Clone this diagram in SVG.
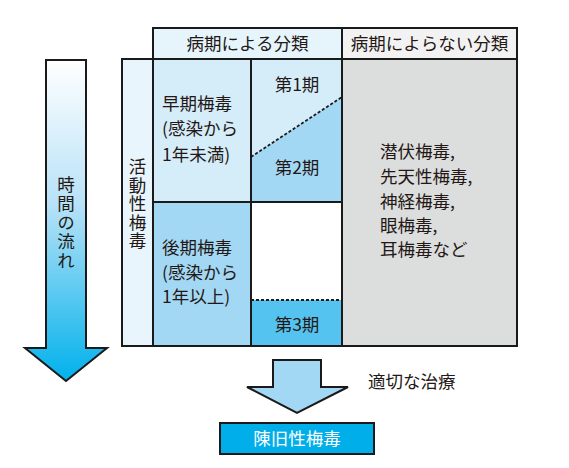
<svg xmlns="http://www.w3.org/2000/svg" width="569" height="468" viewBox="0 0 569 468">
<defs>
<linearGradient id="timeGrad" x1="0" y1="0" x2="0" y2="1">
<stop offset="0" stop-color="#ffffff"/>
<stop offset="0.45" stop-color="#b7e2f7"/>
<stop offset="1" stop-color="#00b1ec"/>
</linearGradient>
<style>
.t{font-family:"Noto Sans CJK JP","Noto Sans",sans-serif;font-size:17.5px;fill:#231815;}
.c{text-anchor:middle;}
.v{writing-mode:vertical-rl;text-anchor:start;}
.w{fill:#ffffff;}
.b{stroke:#1a1a1a;stroke-width:2;}
.d{stroke:#1a1a1a;stroke-width:1.8;stroke-dasharray:3,2;fill:none;}
</style>
</defs>
<rect width="569" height="468" fill="#ffffff"/>

<g id="time-arrow">
<path class="b" d="M46,60 H86 V348 H107 L66,381 L25,348 H46 Z" fill="url(#timeGrad)"/>
<text class="t v" x="66" y="176" letter-spacing="1.3">時間の流れ</text>
</g>

<g id="header-staged">
<rect class="b" x="153" y="28" width="189" height="31" fill="#e6f4fc"/>
<text class="t c" x="247.5" y="50">病期による分類</text>
</g>
<g id="header-nonstaged">
<rect class="b" x="342" y="28" width="175" height="31" fill="#f2f2f2"/>
<text class="t c" x="429.5" y="50">病期によらない分類</text>
</g>

<g id="active">
<rect class="b" x="122" y="59" width="31" height="287" fill="#e8f5fd"/>
<text class="t v" x="137.5" y="158" letter-spacing="1">活動性梅毒</text>
</g>

<g id="early">
<rect class="b" x="153" y="59" width="98" height="143" fill="#d5ecf9"/>
<text class="t" x="162" y="110">早期梅毒</text>
<text class="t" x="162" y="135">(感染から</text>
<text class="t" x="162" y="161">1年未満)</text>
</g>

<g id="stage12">
<rect x="251" y="59" width="91" height="143" fill="#d5ecf9"/>
<path d="M251,157 L342,97 V202 H251 Z" fill="#a3d8f5"/>
<line class="d" x1="251" y1="157" x2="342" y2="97"/>
<rect class="b" x="251" y="59" width="91" height="143" fill="none"/>
<text class="t c" x="297" y="91">第1期</text>
<text class="t c" x="297" y="174">第2期</text>
</g>

<g id="late">
<rect class="b" x="153" y="202" width="98" height="144" fill="#a3d8f5"/>
<text class="t" x="162" y="254">後期梅毒</text>
<text class="t" x="162" y="279">(感染から</text>
<text class="t" x="162" y="303">1年以上)</text>
</g>

<g id="stage3">
<rect x="251" y="300" width="91" height="46" fill="#55c3ef"/>
<line class="d" x1="251" y1="300" x2="342" y2="300"/>
<rect class="b" x="251" y="202" width="91" height="144" fill="none"/>
<text class="t c" x="297" y="331">第3期</text>
</g>

<g id="nonstaged">
<rect class="b" x="342" y="59" width="175" height="287" fill="#dcdddd"/>
<text class="t" x="380" y="158">潜伏梅毒,</text>
<text class="t" x="380" y="183">先天性梅毒,</text>
<text class="t" x="380" y="208">神経梅毒,</text>
<text class="t" x="380" y="232">眼梅毒,</text>
<text class="t" x="380" y="256">耳梅毒など</text>
</g>

<g id="connectors">
<path class="b" d="M273,360 H321 V387 H348 L297,413 L247,387 H273 Z" fill="#a3d8f5"/>
<text class="t" x="368" y="388">適切な治療</text>
</g>

<g id="latent">
<rect class="b" x="220" y="423" width="154" height="31" fill="#00aee9"/>
<text class="t c w" x="297" y="445">陳旧性梅毒</text>
</g>
</svg>
